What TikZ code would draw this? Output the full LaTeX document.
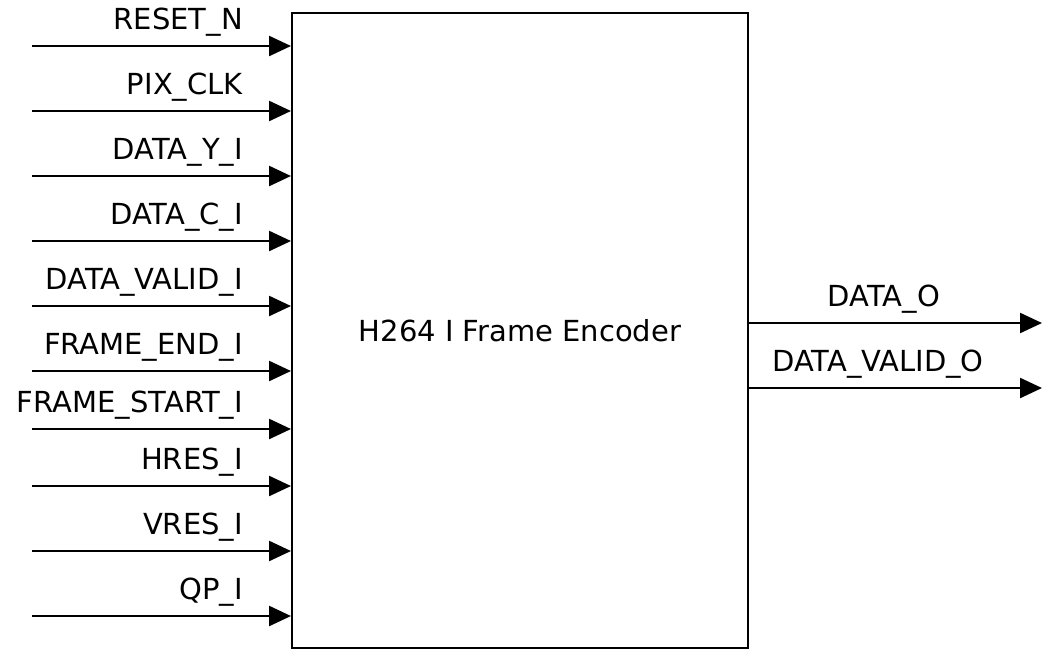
\documentclass[tikz,border=0pt]{standalone}
\usepackage{fontspec}
\setmainfont{DejaVu Sans}
\usetikzlibrary{arrows.meta}
\begin{document}
\begin{tikzpicture}[x=1pt,y=-1pt,
  sig/.style={line width=2.4pt,-{Triangle[length=22pt,width=20pt]}},
  lab/.style={font=\fontsize{29}{34}\selectfont,inner sep=0pt},
  blk/.style={draw,line width=2pt,minimum width=456pt,minimum height=635pt,inner sep=0pt,font=\fontsize{29}{34}\selectfont}]
\useasboundingbox (0,0) rectangle (1050,657);
\node[blk] (enc) at (520,330.5) {H264 I Frame Encoder};
\foreach \n/\y/\t in {a/46/RESET\_N,b/111/PIX\_CLK,c/176/DATA\_Y\_I,d/241/DATA\_C\_I,e/306/DATA\_VALID\_I,f/371/FRAME\_END\_I,g/429/FRAME\_START\_I,h/486/HRES\_I,i/551/VRES\_I,j/616/QP\_I}{
  \coordinate (in\n) at (32,\y);
  \draw[sig] (in\n) -- (enc.west|-in\n);
  \node[lab,anchor=south east] (l\n) at (243,\y-9) {\t};
}
\coordinate (oa) at (1042,323);
\coordinate (ob) at (1042,388);
\draw[sig] (enc.east|-oa) -- (oa);
\draw[sig] (enc.east|-ob) -- (ob);
\node[lab,anchor=south] (loa) at (884,314) {DATA\_O};
\node[lab,anchor=south] (lob) at (878,379) {DATA\_VALID\_O};
\end{tikzpicture}
\end{document}
